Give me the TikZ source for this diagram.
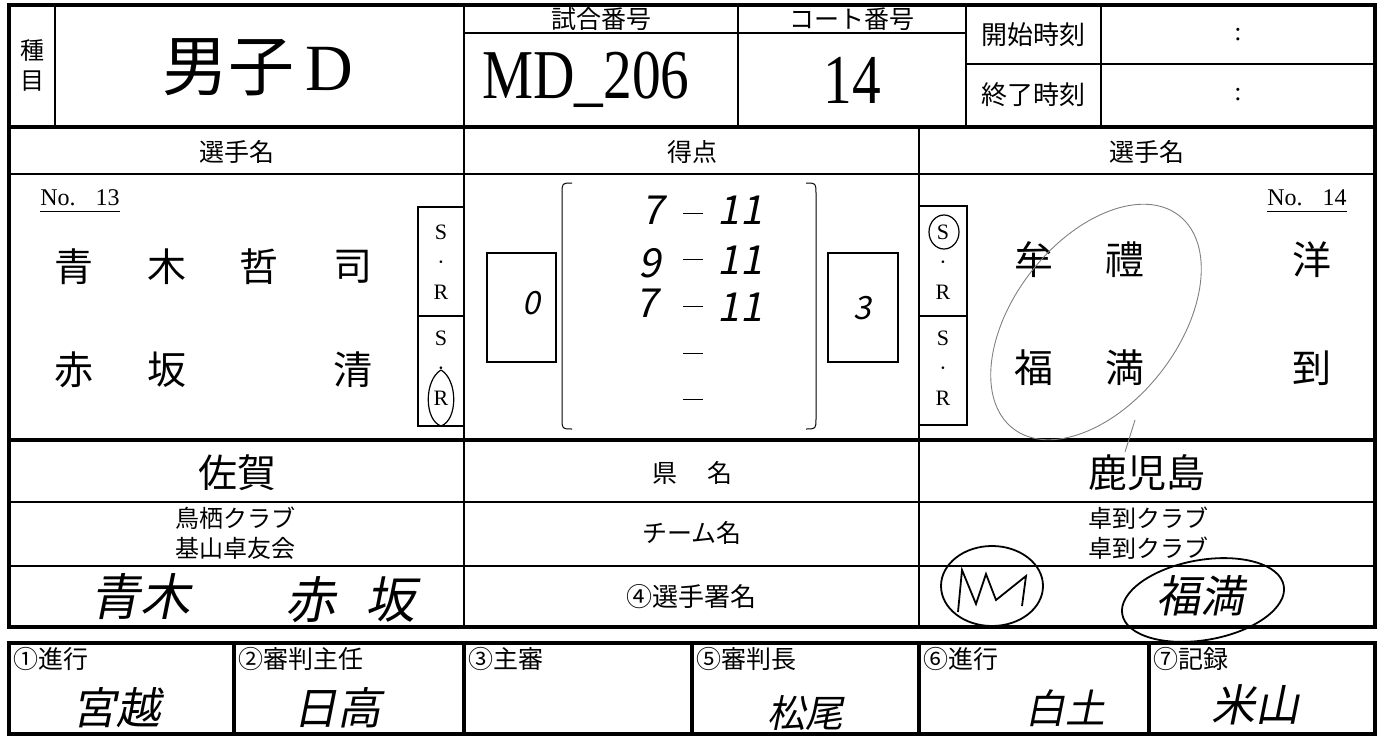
\documentclass[tikz,border=0pt]{standalone}
\usepackage{fontspec}
\usepackage{graphicx}
\setmainfont{Liberation Serif}
\newfontfamily\jp{Noto Sans CJK JP}
\newfontfamily\hand{Noto Sans CJK JP}[FakeSlant=0.2]
\usetikzlibrary{positioning}
\tikzset{
    frame/.style={line width=3.5pt},
    rule/.style={line width=1.6pt},
    thinrule/.style={line width=1pt},
    pencil/.style={gray, line width=0.9pt},
    pen/.style={line width=1.8pt},
    smalltxt/.style={inner sep=0pt, align=center, font=\jp\fontsize{25}{30}\selectfont},
    midtxt/.style={inner sep=0pt, align=center, font=\jp\fontsize{26}{30}\selectfont},
    bigtxt/.style={inner sep=0pt, font=\jp\fontsize{39}{42}\selectfont},
    serif/.style={inner sep=0pt, align=center, font=\fontsize{22}{30}\selectfont},
    numtxt/.style={inner sep=0pt, font=\fontsize{70}{72}\selectfont},
    handtxt/.style={inner sep=0pt, font=\hand\fontsize{40}{42}\selectfont}
}
\begin{document}
\begin{tikzpicture}[x=1pt, y=-1pt]
    \useasboundingbox (0,0) rectangle (1379,736);

    % Grid of the sheet
    \draw[frame] (9,5) rectangle (1375,627);
    \draw[rule] (55,5) -- (55,127);
    \draw[rule] (464,5) -- (464,627);
    \draw[rule] (464,33) -- (966,33);
    \draw[rule] (738,5) -- (738,127);
    \draw[rule] (966,5) -- (966,127);
    \draw[rule] (1101,5) -- (1101,127);
    \draw[rule] (966,64) -- (1375,64);
    \draw[frame] (9,127) -- (1375,127);
    \draw[rule] (919,127) -- (919,627);
    \draw[rule] (9,174) -- (1375,174);
    \draw[frame] (9,440) -- (1375,440);
    \draw[rule] (9,502) -- (1375,502);
    \draw[rule] (9,566) -- (1375,566);

    % Event, match and court
    \node[smalltxt, font=\jp\fontsize{24}{30}\selectfont] (event_lbl) at (32,65) {種\\目};
    \node[inner sep=0pt, font=\fontsize{66}{70}\selectfont] (event) at (258,67) {{\jp 男子}\,D};
    \node[smalltxt] (match_lbl) at (601,19) {試合番号};
    \node[numtxt] (match) at (586,80) {\scalebox{0.82}[1]{MD\_206}};
    \node[smalltxt] (court_lbl) at (852,19) {コート番号};
    \node[numtxt] (court) at (852,80) {\scalebox{0.82}[1]{14}};
    \node[midtxt] (start_lbl) at (1033,35) {開始時刻};
    \node[midtxt] (end_lbl) at (1033,95) {終了時刻};
    \node[serif, font=\fontsize{26}{30}\selectfont] (start) at (1238,35) {:};
    \node[serif, font=\fontsize{26}{30}\selectfont] (end) at (1238,95) {:};

    % Headers
    \node[smalltxt] (left_hdr) at (237,152) {選手名};
    \node[smalltxt] (score_hdr) at (692,152) {得点};
    \node[smalltxt] (right_hdr) at (1147,152) {選手名};

    % Left pair
    \node[serif, font=\fontsize{24}{26}\selectfont] (left_no) at (80,198) {No.\hspace{20pt}13};
    \draw[thinrule] ([yshift=-5pt]left_no.south west) -- ([yshift=-5pt]left_no.south east);
    \node[bigtxt] (l1a) at (74,267) {青};
    \node[bigtxt] (l1b) at (167,267) {木};
    \node[bigtxt] (l1c) at (259,267) {哲};
    \node[bigtxt] (l1d) at (353,267) {司};
    \node[bigtxt] (l2a) at (74,370) {赤};
    \node[bigtxt] (l2b) at (167,370) {坂};
    \node[bigtxt] (l2c) at (353,370) {清};
    \draw[rule] (418,207) rectangle (464,426);
    \draw[rule] (418,316) -- (464,316);
    \node[serif] (l_sr1) at (441,262) {S\\·\\R};
    \node[serif] (l_sr2) at (441,368) {S\\·\\R};
    \draw[pen, line width=1.2pt] (441,370) .. controls (458,380) and (458,420) .. (441,426) .. controls (424,420) and (424,380) .. (441,370);

    % Right pair
    \node[serif, font=\fontsize{24}{26}\selectfont] (right_no) at (1307,198) {No.\hspace{20pt}14};
    \draw[thinrule] ([yshift=-5pt]right_no.south west) -- ([yshift=-5pt]right_no.south east);
    \node[bigtxt] (r1a) at (1034,260) {牟};
    \node[bigtxt] (r1b) at (1125,260) {禮};
    \node[bigtxt] (r1c) at (1312,260) {洋};
    \node[bigtxt] (r2a) at (1034,368) {福};
    \node[bigtxt] (r2b) at (1125,368) {満};
    \node[bigtxt] (r2c) at (1312,368) {到};
    \draw[rule] (919,206) rectangle (967,425);
    \draw[rule] (919,316) -- (967,316);
    \node[serif] (r_sr1) at (943,262) {S\\·\\R};
    \node[serif] (r_sr2) at (943,368) {S\\·\\R};
    \draw[pen, line width=1.2pt] (944,232) ellipse [x radius=15pt, y radius=17pt];
    \draw[pencil, rotate around={52:(1096,322)}] (1096,322) ellipse [x radius=135pt, y radius=82pt];
    \draw[pencil] (1135,420) -- (1125,452);

    % Score
    \draw[thinrule] (572,183) .. controls (562,183) .. (562,194) -- (562,418) .. controls (562,429) .. (572,429);
    \draw[thinrule] (806,183) .. controls (816,183) .. (816,194) -- (816,418) .. controls (816,429) .. (806,429);
    \draw[rule] (487,253) rectangle (556,362);
    \draw[rule] (828,253) rectangle (898,362);
    \node[handtxt, font=\hand\fontsize{32}{34}\selectfont] (left_games) at (531,303) {0};
    \node[handtxt, font=\hand\fontsize{32}{34}\selectfont] (right_games) at (862,308) {3};
    \draw[thinrule] (683,213) -- (703,213);
    \draw[thinrule] (683,259) -- (703,259);
    \draw[thinrule] (683,306) -- (703,306);
    \draw[thinrule] (683,353) -- (703,353);
    \draw[thinrule] (683,399) -- (703,399);
    \node[handtxt] (g1l) at (653,210) {7};
    \node[handtxt] (g1r) at (740,210) {11};
    \node[handtxt] (g2l) at (650,263) {9};
    \node[handtxt] (g2r) at (740,260) {11};
    \node[handtxt] (g3l) at (647,303) {7};
    \node[handtxt] (g3r) at (740,307) {11};

    % Prefecture, team, signature
    \node[bigtxt] (left_pref) at (237,473) {佐賀};
    \node[smalltxt] (pref_lbl) at (692,473) {県\hspace{30pt}名};
    \node[bigtxt] (right_pref) at (1147,473) {鹿児島};
    \node[smalltxt, font=\jp\fontsize{24}{30}\selectfont] (left_team) at (235,533) {鳥栖クラブ\\基山卓友会};
    \node[smalltxt] (team_lbl) at (692,533) {チーム名};
    \node[smalltxt, font=\jp\fontsize{24}{30}\selectfont] (right_team) at (1148,533) {卓到クラブ\\卓到クラブ};
    \node[handtxt, font=\hand\fontsize{50}{52}\selectfont] (left_sig1) at (140,597) {青木};
    \node[handtxt, font=\hand\fontsize{50}{52}\selectfont] (left_sig2) at (350,600) {赤\hspace{30pt}坂};
    \node[midtxt] (sig_lbl) at (691,597) {④選手署名};
    \draw[pen] (992,586) ellipse [x radius=51pt, y radius=40pt];
    \draw[pen] (958,612) -- (962,570) -- (976,604) -- (986,574) -- (996,600) -- (1026,576) -- (1022,606);
    \draw[pen, rotate around={10:(1203,600)}] (1203,600) ellipse [x radius=82pt, y radius=40pt];
    \node[handtxt, font=\hand\fontsize{44}{46}\selectfont] (right_sig) at (1200,596) {福満};

    % Officials
    \draw[frame] (9,643) rectangle (1375,734);
    \draw[frame] (234,643) -- (234,734);
    \draw[frame] (464,643) -- (464,734);
    \draw[frame] (692,643) -- (692,734);
    \draw[frame] (919,643) -- (919,734);
    \draw[frame] (1149,643) -- (1149,734);
    \node[smalltxt, anchor=west] (off1) at (13,659) {①進行};
    \node[smalltxt, anchor=west] (off2) at (238,659) {②審判主任};
    \node[smalltxt, anchor=west] (off3) at (468,659) {③主審};
    \node[smalltxt, anchor=west] (off5) at (696,659) {⑤審判長};
    \node[smalltxt, anchor=west] (off6) at (923,659) {⑥進行};
    \node[smalltxt, anchor=west] (off7) at (1153,659) {⑦記録};
    \node[handtxt, font=\hand\fontsize{44}{46}\selectfont] (sign1) at (116,708) {宮越};
    \node[handtxt, font=\hand\fontsize{44}{46}\selectfont] (sign2) at (337,708) {日高};
    \node[handtxt, font=\hand\fontsize{38}{40}\selectfont] (sign5) at (805,713) {松尾};
    \node[handtxt, font=\hand\fontsize{40}{42}\selectfont] (sign6) at (1065,708) {白土};
    \node[handtxt, font=\hand\fontsize{44}{46}\selectfont] (sign7) at (1255,705) {米山};
\end{tikzpicture}
\end{document}
